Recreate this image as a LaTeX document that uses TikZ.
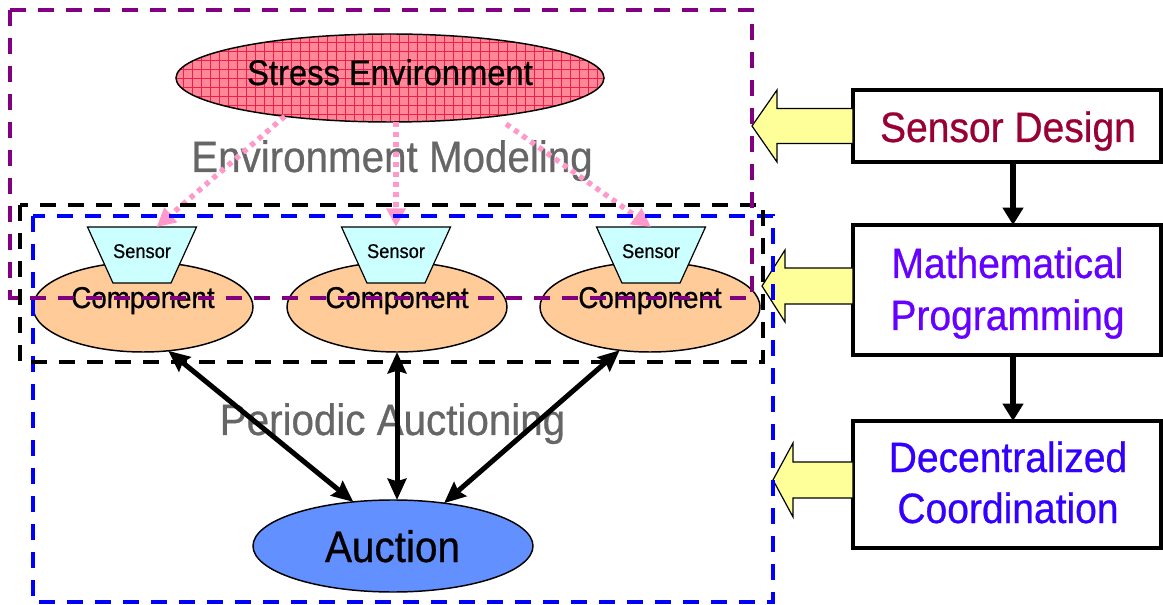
\documentclass[tikz,border=0pt]{standalone}
\usepackage{fontspec}
\setmainfont{Liberation Sans}[FakeStretch=0.92, FakeBold=0.6]
\usetikzlibrary{arrows.meta,shapes.geometric}

\definecolor{framepurple}{RGB}{128,0,128}
\definecolor{frameblue}{RGB}{0,0,255}
\definecolor{dotpink}{RGB}{255,153,204}
\definecolor{stresspink}{RGB}{255,135,152}
\definecolor{gridred}{RGB}{238,30,70}
\definecolor{sensorcyan}{RGB}{204,255,255}
\definecolor{comppeach}{RGB}{255,204,153}
\definecolor{auctionblue}{RGB}{98,144,255}
\definecolor{labelgray}{RGB}{102,102,102}
\definecolor{arrowyellow}{RGB}{255,255,153}
\definecolor{designred}{RGB}{153,0,51}
\definecolor{mathviolet}{RGB}{102,0,255}
\definecolor{coordblue}{RGB}{51,0,255}

% left-pointing block arrow: start point, shaft length, head length,
% shaft half-width, head half-width (picture units)
\newcommand{\leftblockarrow}[5]{%
  \filldraw[yarrow] (#1) ++(0,-#4) -- ++(-#2,0) -- ++(0,{#4-#5})
    -- ++(-#3,#5) -- ++(#3,#5) -- ++(0,{#4-#5}) -- ++(#2,0) -- cycle;}

\begin{document}
\begin{tikzpicture}[x=0.75pt,y=-0.75pt,
  every node/.style={inner sep=0pt, outer sep=0pt},
  blob/.style={ellipse, draw=black, line width=1.1pt},
  stressblob/.style={blob, fill=stresspink, minimum width=321pt, minimum height=66pt,
    path picture={\draw[gridred, line width=0.6pt, step=6.75pt]
      (path picture bounding box.south west) grid (path picture bounding box.north east);}},
  compblob/.style={blob, fill=comppeach, minimum width=165pt, minimum height=67.5pt},
  auctionblob/.style={blob, fill=auctionblue, minimum width=210pt, minimum height=69pt},
  sensorslot/.style={minimum width=81.75pt, minimum height=42pt},
  sensorshape/.style={fill=sensorcyan, draw=black, line width=0.9pt, line join=miter},
  sensortext/.style={anchor=base, font=\fontsize{14.9}{18}\selectfont},
  comptext/.style={anchor=base, font=\fontsize{22.6}{27}\selectfont},
  graylabel/.style={anchor=base, text=labelgray, font=\fontsize{32.9}{39}\selectfont},
  stagebox/.style={draw=black, fill=white, line width=3pt, minimum width=231pt},
  boxtext/.style={anchor=base, font=\fontsize{31.8}{38}\selectfont},
  yarrow/.style={fill=arrowyellow, draw=black, line width=0.9pt, line join=miter},
  envlink/.style={draw=dotpink, line width=4pt, dash pattern=on 3.75pt off 3.75pt,
    -{Triangle[length=14pt,width=14pt,fill=dotpink]}},
  bidlink/.style={line width=3.75pt,
    {Stealth[length=16pt,width=14pt,inset=2pt]}-{Stealth[length=16pt,width=14pt,inset=2pt]}},
  flowlink/.style={line width=4pt, -{Triangle[length=13pt,width=15pt]}},
  dashframe/.style={line width=3pt, dash pattern=on 12pt off 9pt}
]
\useasboundingbox (0,0) rectangle (1163,605);

% ---- stress environment ----
\node[stressblob] (stress) at (390,78) {};
\node[anchor=base, font=\fontsize{26.7}{32}\selectfont] (stresst) at (390,85) {Stress Environment};

% ---- section labels ----
\node[graylabel] (envlabel) at (392,172) {Environment Modeling};
\node[graylabel] (auclabel) at (392.5,435) {Periodic Auctioning};

% ---- components with their sensors ----
\foreach \i/\cx/\sx in {1/143/142, 2/397/396, 3/650/651}{
  \node[compblob] (c\i) at (\cx,307) {};
  \node[comptext] (c\i t) at (\cx,308) {Component};
  \node[sensorslot] (s\i) at (\sx,255) {};
  \path[sensorshape] (s\i.north west) -- (s\i.north east)
     -- ([xshift=-19.1pt]s\i.south east) -- ([xshift=19.1pt]s\i.south west) -- cycle;
  \node[sensortext] (s\i t) at (\sx,258) {Sensor};
}

% ---- auction ----
\node[auctionblob] (auction) at (393,546) {};
\node[anchor=base, font=\fontsize{33}{40}\selectfont] (auctiont) at (392.5,562) {Auction};

% ---- environment links ----
\draw[envlink] (stress.200) -- ([xshift=11pt]s1.north);
\draw[envlink] (s2.north |- stress.south) -- (s2.north);
\draw[envlink, shorten <=10pt] (stress.340) -- (s3.north);

% ---- bidding links ----
\draw[bidlink] (c1.300) -- (auction.132);
\draw[bidlink] (c2.south) -- (c2.south |- auction.north);
\draw[bidlink] (c3.235) -- (auction.40);

% ---- design stages ----
\node[stagebox, minimum height=54pt] (sd) at (1007,126) {};
\node[stagebox, minimum height=97.5pt] (mp) at (1007,290) {};
\node[stagebox, minimum height=95.25pt] (dc) at (1007,484.5) {};

\leftblockarrow{sd.west}{76}{25}{17.5}{36}
\leftblockarrow{[yshift=3pt]mp.west}{68}{23}{18}{36}
\leftblockarrow{[yshift=3.4pt]dc.west}{60}{20}{18}{37}

\node[boxtext, text=designred] (sdt) at (1008,142) {Sensor Design};
\node[boxtext, text=mathviolet] (mpt1) at (1007.5,278) {Mathematical};
\node[boxtext, text=mathviolet] (mpt2) at (1007.5,330) {Programming};
\node[boxtext, text=coordblue] (dct1) at (1008,472) {Decentralized};
\node[boxtext, text=coordblue] (dct2) at (1008,523) {Coordination};

\draw[flowlink] ([xshift=4.5pt]sd.south) -- ([xshift=4.5pt]mp.north);
\draw[flowlink] ([xshift=4.5pt]mp.south) -- ([xshift=4.5pt]dc.north);

% ---- grouping frames ----
\draw[dashframe, draw=frameblue] (33,216) rectangle (773,602);
\draw[dashframe, draw=black] (20,205) rectangle (763,362);
\draw[dashframe, draw=framepurple] (10,10) rectangle (752,298);
\end{tikzpicture}
\end{document}
